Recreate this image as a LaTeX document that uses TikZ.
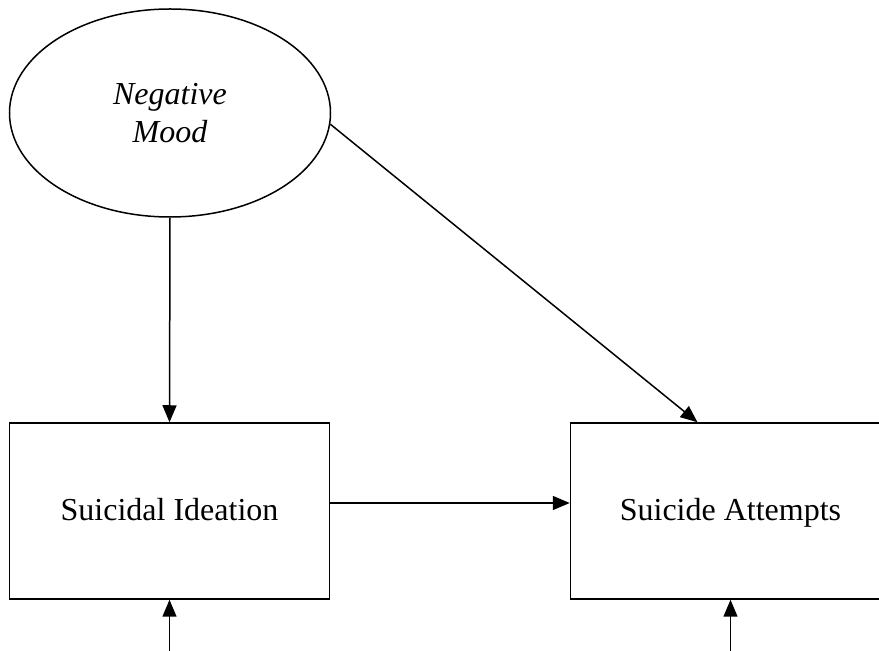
\documentclass[tikz,border=0pt]{standalone}
\usepackage{fontspec}
\setmainfont{Liberation Serif}
\usepackage{tikz}
\usetikzlibrary{positioning,shapes.geometric,arrows.meta}

\begin{document}
\begin{tikzpicture}[line width=1.5pt,
    every node/.style={draw,font=\fontsize{32}{38}\selectfont},
    latent/.style={ellipse,minimum width=321pt,minimum height=208pt,align=center},
    observed/.style={rectangle,minimum width=320pt,minimum height=176pt,
      text height=24pt,text depth=4pt},
    arr/.style={-{Triangle[length=17pt,width=14pt]}}
  ]
  \useasboundingbox (0,0) rectangle (879pt,651pt);
  \clip (0,0) rectangle (879pt,651pt);

  % the latent variable
  \node[latent] (mood) at (170pt,538pt) {\itshape Negative\\\itshape Mood};

  % the observed variables
  \node[observed] (ideation) at (169.5pt,140pt) {Suicidal Ideation};
  \node[observed,right=239.5pt of ideation] (attempts) {Suicide Attempts};

  % the error terms
  \coordinate (eideation) at (ideation.south |- 0,0);
  \coordinate (eattempts) at (attempts.south |- 0,0);

  % the paths
  \draw[arr] (mood.south) -- (ideation.north);
  \draw[arr] (mood.-4) -- ([xshift=-33pt]attempts.north);
  \draw[arr] ([yshift=8pt]ideation.east) -- ([yshift=8pt]attempts.west);
  \draw[arr] (eideation) -- (ideation.south);
  \draw[arr] (eattempts) -- (attempts.south);
\end{tikzpicture}
\end{document}
